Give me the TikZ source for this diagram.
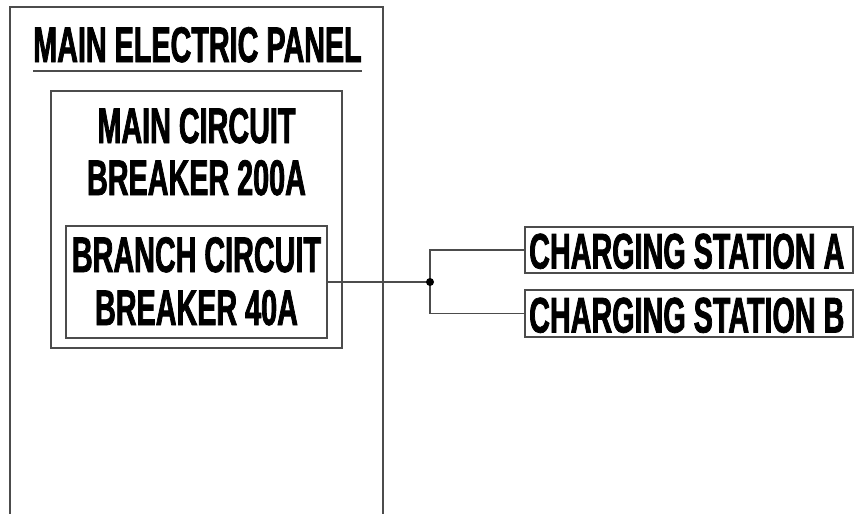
\documentclass[tikz,border=0pt]{standalone}
\usepackage{fontspec}
\newfontfamily\labfont{Liberation Sans}[FakeStretch=0.575, FakeBold=1.5]
\tikzset{
  ln/.style={draw=black!70, line width=1.2pt},
  lbl/.style={font=\labfont\bfseries\fontsize{50}{54}\selectfont, inner sep=0pt, anchor=base},
}
\begin{document}
\begin{tikzpicture}[x=1pt,y=-1pt]
\useasboundingbox (0,0) rectangle (855,514);
\clip (0,0) rectangle (855,514);
% outer panel (open at the bottom, runs off the page)
\draw[ln] (10,530) -- (10,7) -- (383,7) -- (383,530);
\node[lbl] (title) at (197.5,62) {MAIN ELECTRIC PANEL};
\draw[ln] (33,71) -- (362,71);
% main breaker box
\node[ln, draw, rectangle, inner sep=0pt, minimum width=291pt, minimum height=257pt] (main) at (196.5,219.5) {};
\node[lbl] (mainA) at (196.5,143) {MAIN CIRCUIT};
\node[lbl] (mainB) at (196.5,195) {BREAKER 200A};
% branch breaker box
\node[ln, draw, rectangle, inner sep=0pt, minimum width=261pt, minimum height=112pt] (branch) at (196.5,282) {};
\node[lbl] (brA) at (196.5,272) {BRANCH CIRCUIT};
\node[lbl] (brB) at (196.5,325) {BREAKER 40A};
% charging stations
\node[ln, draw, rectangle, inner sep=0pt, minimum width=328pt, minimum height=46pt] (csA) at (689,250) {};
\node[ln, draw, rectangle, inner sep=0pt, minimum width=328pt, minimum height=47pt] (csB) at (689,313.5) {};
\node[lbl, anchor=base west] (csAt) at (529,268.5) {CHARGING STATION A};
\node[lbl, anchor=base west] (csBt) at (529,332.5) {CHARGING STATION B};
% connectors
\coordinate (j) at (430,282);
\draw[ln] (branch.east) -- (j);
\draw[ln] (j) |- (csA.west);
\draw[ln] (j) |- (csB.west);
\fill[black] (j) circle (4);
\end{tikzpicture}
\end{document}
